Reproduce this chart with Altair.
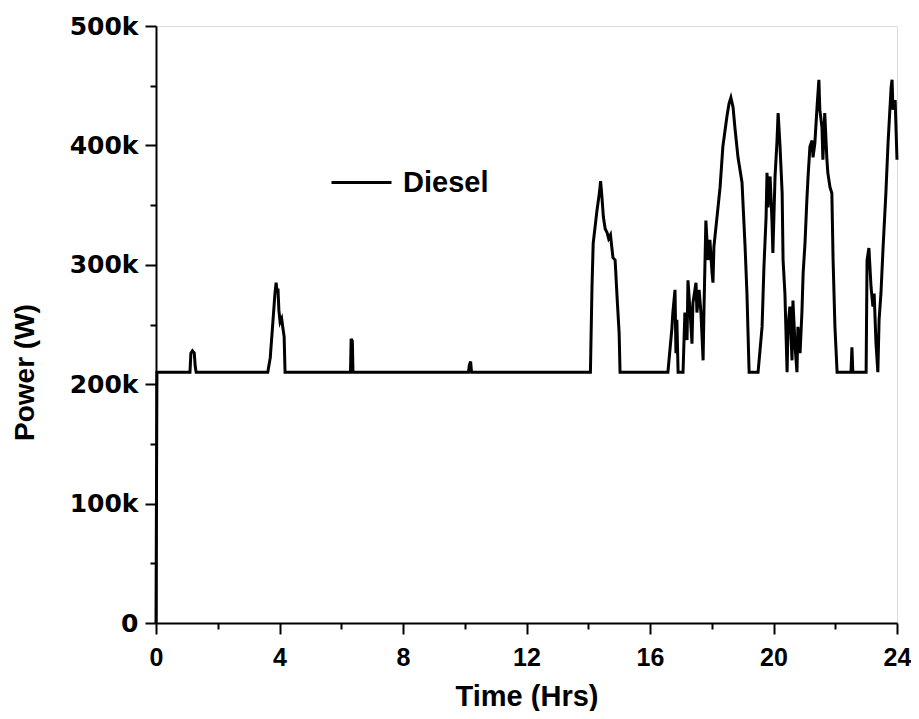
import altair as alt
import pandas as pd

# Time (hours) and diesel power (kW)
time_hrs = [
    0.00, 0.03, 1.10, 1.13, 1.18, 1.24, 1.27, 1.30,
    3.62, 3.70, 3.78, 3.85, 3.89, 3.92, 3.95, 3.98, 4.02, 4.07, 4.11, 4.15, 4.18,
    6.30, 6.32, 6.36, 6.38,
    10.12, 10.15, 10.19, 10.22,
    14.07, 14.12, 14.16, 14.28, 14.37, 14.40, 14.44, 14.49, 14.55, 14.61, 14.66,
    14.72, 14.80, 14.87, 14.94, 15.00, 15.03,
    16.58, 16.71, 16.74, 16.81, 16.84, 16.87, 16.91, 17.07, 17.13, 17.20, 17.23,
    17.30, 17.36, 17.39, 17.49, 17.52, 17.59, 17.65, 17.72, 17.75, 17.81, 17.88,
    17.94, 18.01, 18.04, 18.07, 18.17, 18.27, 18.36, 18.49, 18.56, 18.62, 18.69,
    18.75, 18.85, 18.98, 19.08, 19.14, 19.21,
    19.50, 19.63, 19.69, 19.76, 19.79, 19.82, 19.89, 19.95, 19.98, 20.05, 20.11,
    20.15, 20.21, 20.28, 20.31, 20.37, 20.44, 20.47, 20.53, 20.60, 20.63, 20.70,
    20.76, 20.79, 20.86, 20.92, 20.96, 21.02, 21.08, 21.12, 21.18, 21.25, 21.28,
    21.34, 21.41, 21.47, 21.50, 21.57, 21.60, 21.66, 21.73, 21.76, 21.83, 21.89,
    21.93, 21.99, 22.06,
    22.51, 22.54, 22.57,
    23.00, 23.03, 23.09, 23.16, 23.22, 23.26, 23.32, 23.38, 23.42, 23.48, 23.55,
    23.64, 23.71, 23.81, 23.84, 23.87, 23.94, 24.00,
]
power_kw = [
    0, 210, 210, 226, 228, 226, 215, 210,
    210, 222, 250, 275, 285, 278, 280, 262, 252, 255, 247, 240, 210,
    210, 238, 236, 210,
    210, 216, 219, 210,
    210, 280, 318, 345, 362, 370, 358, 340, 330, 327, 322,
    325, 306, 304, 270, 243, 210,
    210, 247, 260, 279, 226, 254, 210, 210, 260, 237, 287,
    260, 234, 268, 285, 260, 279, 260, 220, 265, 337, 304,
    321, 293, 285, 315, 340, 365, 399, 424, 435, 440, 432,
    415, 390, 369, 315, 276, 210,
    210, 248, 298, 340, 377, 348, 374, 337, 310, 374, 402,
    427, 400, 360, 304, 276, 210, 248, 265, 220, 270, 231,
    210, 248, 226, 260, 293, 318, 354, 374, 399, 404, 390,
    402, 432, 455, 430, 415, 388, 427, 388, 377, 365, 360,
    304, 248, 210,
    210, 231, 210,
    210, 304, 314, 281, 265, 276, 234, 210, 254, 276, 315,
    360, 402, 449, 455, 430, 438, 388,
]
series_name = "Diesel"

x_ticks = list(range(0, 25, 2))
y_ticks = list(range(0, 500001, 50000))

df = pd.DataFrame({
    "time": time_hrs,
    "power": [p * 1000 for p in power_kw],
    "series": series_name,
})

sans = "Liberation Sans"

chart = alt.Chart(df).mark_line(strokeWidth=3, color="black").encode(
    x=alt.X(
        "time:Q",
        scale=alt.Scale(domain=[0, 24], nice=False, zero=False),
        axis=alt.Axis(
            title="Time (Hrs)",
            values=x_ticks,
            labelExpr="datum.value % 4 === 0 ? datum.label : ''",
            tickSize={"condition": {"test": "datum.value % 4 === 0", "value": 11}, "value": 6},
            tickWidth=2,
            tickColor="black",
            domainColor="black",
            domainWidth=2,
            grid=False,
            labelFont=sans,
            labelFontWeight="bold",
            labelFontSize=25,
            labelColor="black",
            labelPadding=11,
            labelFlush=False,
            titleFont=sans,
            titleFontWeight="bold",
            titleFontSize=29,
            titleColor="black",
            titlePadding=12,
        ),
    ),
    y=alt.Y(
        "power:Q",
        scale=alt.Scale(domain=[0, 500000], nice=False),
        axis=alt.Axis(
            title="Power (W)",
            values=y_ticks,
            labelExpr="datum.value % 100000 === 0 ? (datum.value === 0 ? '0' : (datum.value / 1000) + 'k') : ''",
            tickSize={"condition": {"test": "datum.value % 100000 === 0", "value": 11}, "value": 6},
            tickWidth=2,
            tickColor="black",
            domainColor="black",
            domainWidth=2,
            grid=False,
            labelFont="DejaVu Sans",
            labelFontWeight="bold",
            labelFontSize=25,
            labelColor="black",
            labelPadding=7,
            labelFlush=False,
            titleFont=sans,
            titleFontWeight="bold",
            titleFontSize=28,
            titleColor="black",
            titleAngle=-90,
            titleAlign="center",
            titleBaseline="alphabetic",
            titleX=-123,
            titleY=346,
        ),
    ),
    color=alt.Color(
        "series:N",
        scale=alt.Scale(domain=[series_name], range=["black"]),
        legend=alt.Legend(
            title=None,
            orient="none",
            legendX=174,
            legendY=125,
            symbolType="stroke",
            symbolSize=3600,
            symbolStrokeWidth=3,
            labelFont=sans,
            labelFontWeight="bold",
            labelFontSize=29,
            labelColor="black",
            labelOffset=10,
            padding=0,
        ),
    ),
).properties(
    width=741,
    height=597,
    autosize=alt.AutoSizeParams(type="none"),
    padding={"left": 148, "top": 18, "right": 14, "bottom": 88},
).configure_view(stroke=None).configure(background="white")

chart.save("out.html", embed_options={"renderer": "svg", "actions": False})
